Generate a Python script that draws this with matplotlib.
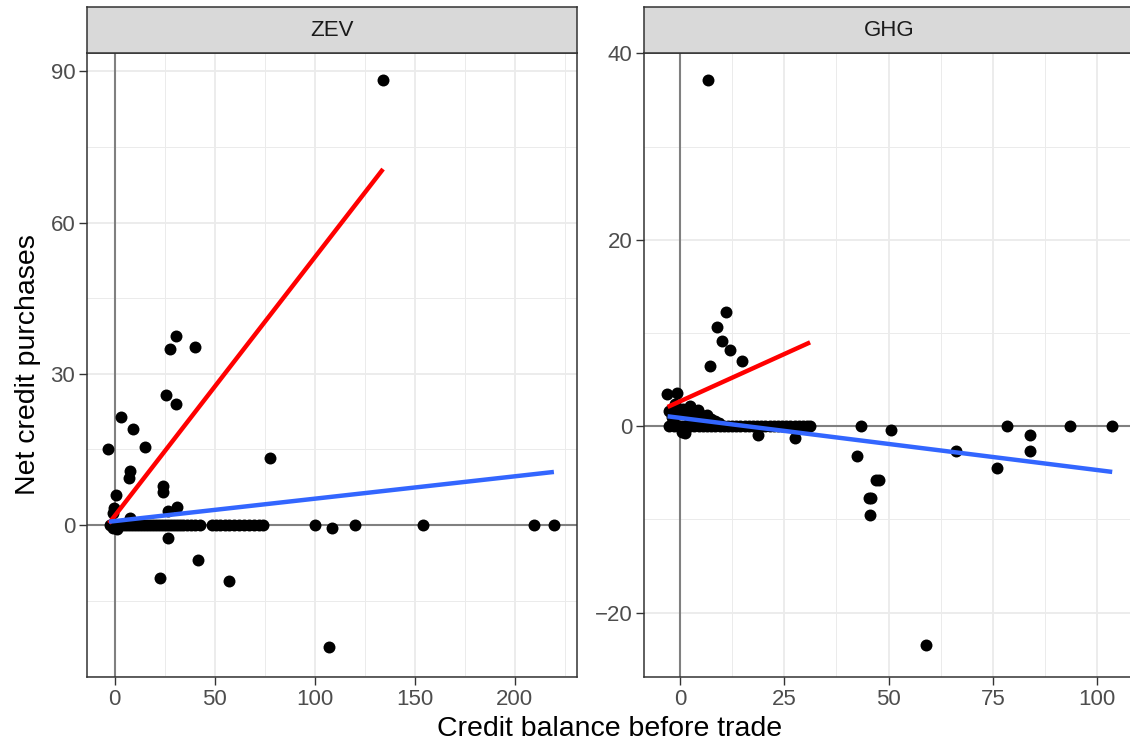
import numpy as np
import matplotlib
matplotlib.use("Agg")
import matplotlib.pyplot as plt
from matplotlib.ticker import FuncFormatter

plt.rcParams['font.family'] = ['Liberation Sans', 'DejaVu Sans']

# ZEV market: firms that traded a non-zero amount
zev_balance = [134.1, -3.4, 3.1, 9.2, 30.6, 27.6, 40.1, 25.7, 30.6, 15.2, 7.6, 7.2,
               24.2, 24.2, 77.6, 0.4, -0.4, -0.7, 7.4, 26.4, 31.2, 26.8, 41.8, 57.1,
               107.1, 22.6, 108.5, -1.0, 1.0, 0.0]
zev_purchase = [88.3, 15.1, 21.4, 19.0, 37.5, 34.9, 35.3, 25.7, 24.0, 15.4, 10.7, 9.3,
                7.7, 6.5, 13.2, 6.0, 3.3, 2.4, 1.3, 2.8, 3.6, -2.6, -6.9, -11.2,
                -24.3, -10.5, -0.5, -0.6, -0.8, -0.3]
# ZEV firms with no net purchase
zev_zero_balance = [-2.5, -1.5, -0.5, 0.5, 1.5, 2.5, 4, 5.5, 7, 8.5, 10, 11.5, 13, 14.5,
                    16, 17.5, 19, 20.5, 22, 23.5, 25, 26.5, 28, 29.5, 31, 32.5, 34, 36,
                    38, 40, 42.5, 48.5, 50.5, 52.5, 55, 57, 59.5, 62, 64.5, 67, 69.5,
                    72, 74.3, 100, 120, 154, 209.5, 219.5]

# GHG market
ghg_balance = [6.7, 11.1, 8.8, 10.2, 12.1, 15.0, 7.2, -3.2, -0.6, 0.4, 18.8, 27.6,
               50.7, 42.5, 46.9, 47.7, 45.7, 45.2, 45.5, 66.1, 75.9, 83.9, 83.9, 59.0,
               -2.6, -2.0, -1.2, -0.2, 0.8, 1.6, 2.4, 3.0, 3.6, 4.3, 5.0, 5.6, 6.4,
               7.4, 8.4, 9.4, 1.2, -1.6]
ghg_purchase = [37.1, 12.3, 10.6, 9.1, 8.2, 7.0, 6.5, 3.5, 3.6, -0.6, -0.9, -1.3,
                -0.4, -3.2, -5.8, -5.8, -7.7, -7.7, -9.5, -2.6, -4.5, -0.9, -2.6, -23.5,
                1.6, 1.0, 2.4, 1.4, 1.9, 1.2, 2.2, 1.5, 0.9, 1.7, 1.2, 0.7, 1.2,
                0.8, 0.6, 0.3, -0.7, 0.6]
ghg_zero_balance = [-2.5, -1.5, -0.5, 0.5, 1.5, 2.5, 3.5, 4.5, 5.5, 6.5, 7.5, 8.5, 9.5,
                    10.5, 11.5, 12.5, 13.5, 14.5, 15.5, 16.5, 17.5, 18.5, 19.5, 20.5,
                    21.5, 22.5, 23.5, 24.5, 25.5, 26.5, 27.5, 28.5, 29.5, 30.5, 31.2,
                    43.5, 78.3, 93.5, 103.6]

# linear fits: (intercept, slope, x_from, x_to)
zev_fit_red = (1.83, 0.513, -2.9, 134.1)
zev_fit_blue = (0.78, 0.0444, -2.9, 219.5)
ghg_fit_red = (2.67, 0.203, -2.95, 31.2)
ghg_fit_blue = (0.905, -0.056, -2.95, 103.6)

# axis breaks per facet
zev_xbreaks = [0, 50, 100, 150, 200]
zev_ybreaks = [0, 30, 60, 90]
ghg_xbreaks = [0, 25, 50, 75, 100]
ghg_ybreaks = [-20, 0, 20, 40]

W, H = 1130, 747
TICK_COLOR = '#4D4D4D'
EDGE_COLOR = '#333333'
GRID_COLOR = '#EBEBEB'


def minus_fmt(v, pos):
    return '{:g}'.format(v).replace('-', '\u2212')


def minor_breaks(major, lo, hi):
    step = major[1] - major[0]
    vals = np.arange(major[0] - step * 2, major[-1] + step * 2 + 1e-9, step / 2)
    return [v for v in vals if lo <= v <= hi and v not in major]


def draw_panel(fig, left, title, bal, purch, zero_bal, fits, xlim, ylim, xbreaks, ybreaks):
    top, bottom, strip_top = 53, 677, 7
    width = 489.5
    ax = fig.add_axes([left / W, (H - bottom) / H, width / W, (bottom - top) / H])
    ax.set_xlim(*xlim)
    ax.set_ylim(*ylim)
    ax.set_xticks(xbreaks)
    ax.set_yticks(ybreaks)
    ax.set_xticks(minor_breaks(xbreaks, *xlim), minor=True)
    ax.set_yticks(minor_breaks(ybreaks, *ylim), minor=True)
    ax.xaxis.set_major_formatter(FuncFormatter(minus_fmt))
    ax.yaxis.set_major_formatter(FuncFormatter(minus_fmt))
    ax.grid(which='major', color=GRID_COLOR, lw=1.3, zorder=0)
    ax.grid(which='minor', color=GRID_COLOR, lw=0.7, zorder=0)
    ax.set_axisbelow(True)
    ax.tick_params(which='major', length=5.5, width=1.0, color=EDGE_COLOR,
                   labelsize=16, labelcolor=TICK_COLOR, pad=3)
    ax.tick_params(which='minor', length=0)
    for s in ax.spines.values():
        s.set_color(EDGE_COLOR)
        s.set_linewidth(1.1)

    ax.axhline(0, color='#808080', lw=1.5, zorder=1)
    ax.axvline(0, color='#808080', lw=1.5, zorder=1)

    ax.scatter(bal, purch, s=74, color='black', lw=0, zorder=2)
    ax.scatter(zero_bal, np.zeros(len(zero_bal)), s=74, color='black', lw=0, zorder=2)

    for (b0, b1, x0, x1), col in zip(fits, ['#FF0000', '#3366FF']):
        xs = np.array([x0, x1])
        ax.plot(xs, b0 + b1 * xs, color=col, lw=3.2, solid_capstyle='butt', zorder=3)

    # facet strip
    strip = fig.add_axes([left / W, (H - top) / H, width / W, (top - strip_top) / H])
    strip.set_xticks([])
    strip.set_yticks([])
    strip.set_facecolor('#D9D9D9')
    for s in strip.spines.values():
        s.set_color(EDGE_COLOR)
        s.set_linewidth(1.1)
    strip.text(0.5, 0.5, title, ha='center', va='center', fontsize=16, color='#1A1A1A',
               transform=strip.transAxes)
    return ax


fig = plt.figure(figsize=(W / 100, H / 100), dpi=100)

draw_panel(fig, 87, 'ZEV', zev_balance, zev_purchase, zev_zero_balance,
           [zev_fit_red, zev_fit_blue], (-13.9, 230.8), (-30.16, 93.65),
           zev_xbreaks, zev_ybreaks)
draw_panel(fig, 644, 'GHG', ghg_balance, ghg_purchase, ghg_zero_balance,
           [ghg_fit_red, ghg_fit_blue], (-8.6, 108.7), (-26.9, 40.05),
           ghg_xbreaks, ghg_ybreaks)

fig.text(610 / W, 1 - 729 / H, 'Credit balance before trade', ha='center', va='center',
         fontsize=20.5, color='black')
fig.text(28 / W, 1 - 365 / H, 'Net credit purchases', ha='center', va='center',
         rotation=90, fontsize=20.5, color='black')

fig.savefig('out.png', dpi=100)
